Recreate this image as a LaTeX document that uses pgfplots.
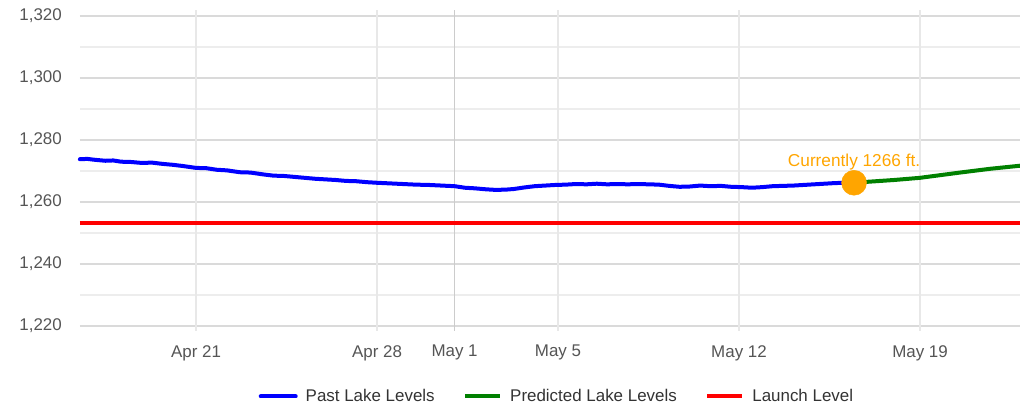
\documentclass[border=0pt]{standalone}
\usepackage{pgfplots}
\pgfplotsset{compat=1.18}
\usepackage{fontspec}
\setmainfont{Liberation Sans}
\definecolor{tickgray}{HTML}{555555}
\definecolor{legendgray}{HTML}{333333}
\definecolor{gridmaj}{HTML}{DADADA}
\definecolor{gridmin}{HTML}{EDEDED}
\definecolor{gridv}{HTML}{E8E8E8}
\definecolor{gridmay}{HTML}{CCCCCC}
\definecolor{lakeorange}{HTML}{FFA500}
\definecolor{lakegreen}{HTML}{008000}
\begin{document}
\begin{tikzpicture}
\path[use as bounding box] (0,0) rectangle (1020bp,408bp);
\begin{axis}[
  at={(80bp,82bp)}, anchor=south west,
  scale only axis, width=940bp, height=310bp,
  xmin=-14.486, xmax=21.867, ymin=1220, ymax=1320,
  axis line style={draw=none},
  major tick length=0pt, minor tick length=0pt,
  xtick={-10,-3,0,4,11,18},
  xticklabels={Apr 21,Apr 28,May 1,May 5,May 12,May 19},
  ytick={1220,1240,1260,1280,1300,1320},
  yticklabels={{1,220},{1,240},{1,260},{1,280},{1,300},{1,320}},
  minor ytick={1230,1250,1270,1290,1310},
  ymajorgrids, yminorgrids,
  major y grid style={color=gridmaj, line width=1.2bp},
  minor y grid style={color=gridmin, line width=1.2bp},
  ticklabel style={font=\fontsize{17}{20}\selectfont, text=tickgray},
  yticklabel style={inner sep=0pt, xshift=-18bp},
  xticklabel style={inner sep=0pt, yshift=-19bp},
  clip=false,
  legend columns=3,
  legend style={at={(0.5063,-0.2274)}, anchor=center, draw=none, fill=none,
    font=\fontsize{17}{20}\selectfont, text=legendgray,
    /tikz/every even column/.append style={column sep=28.5bp},
    /tikz/every odd column/.append style={column sep=8bp},
    nodes={inner sep=0pt}},
  legend image code/.code={\draw[#1, line width=4bp] (0bp,0bp) -- (35bp,0bp);},
]
% vertical grid lines
\draw[gridv, line width=1.2bp] (axis cs:-10,1218.4) -- (axis cs:-10,1321.9);
\draw[gridv, line width=1.2bp] (axis cs:-3,1218.4) -- (axis cs:-3,1321.9);
\draw[gridmay, line width=1.2bp] (axis cs:0,1218.4) -- (axis cs:0,1321.9);
\draw[gridv, line width=1.2bp] (axis cs:4,1218.4) -- (axis cs:4,1321.9);
\draw[gridv, line width=1.2bp] (axis cs:11,1218.4) -- (axis cs:11,1321.9);
\draw[gridv, line width=1.2bp] (axis cs:18,1218.4) -- (axis cs:18,1321.9);

\addplot[blue, line width=4bp, line join=round, line cap=round] coordinates {
(-14.49,1273.8) (-14.2,1273.9) (-13.9,1273.6) (-13.5,1273.3) (-13.2,1273.4)
(-12.9,1273.0) (-12.5,1272.9) (-12.1,1272.6) (-11.7,1272.7) (-11.3,1272.3)
(-10.9,1272.0) (-10.5,1271.6) (-10.0,1271.0) (-9.6,1270.9) (-9.2,1270.4)
(-8.8,1270.2) (-8.3,1269.6) (-7.9,1269.5) (-7.4,1268.9) (-7.0,1268.5)
(-6.6,1268.4) (-6.2,1268.1) (-5.8,1267.8) (-5.4,1267.5) (-5.0,1267.3)
(-4.6,1267.1) (-4.2,1266.8) (-3.8,1266.7) (-3.4,1266.4) (-3.0,1266.2)
(-2.5,1266.0) (-2.0,1265.8) (-1.5,1265.6) (-1.0,1265.5) (-0.5,1265.3)
(0.0,1265.1) (0.4,1264.6) (0.8,1264.4) (1.2,1264.1) (1.6,1263.9)
(2.0,1264.0) (2.3,1264.2) (2.7,1264.7) (3.1,1265.1) (3.5,1265.3)
(3.9,1265.5) (4.3,1265.6) (4.7,1265.8) (5.1,1265.7) (5.5,1265.9)
(5.9,1265.7) (6.3,1265.8) (6.7,1265.7) (7.1,1265.8) (7.5,1265.7)
(7.9,1265.6) (8.3,1265.2) (8.7,1264.9) (9.1,1265.0) (9.5,1265.3)
(9.9,1265.1) (10.3,1265.2) (10.7,1264.9) (11.1,1264.8) (11.5,1264.6)
(11.9,1264.8) (12.3,1265.1) (12.7,1265.2) (13.1,1265.3) (13.5,1265.5)
(13.9,1265.7) (14.3,1265.9) (14.7,1266.1) (15.1,1266.2) (15.45,1266.2)
};
\addlegendentry{Past Lake Levels}
\addplot[lakegreen, line width=4bp, line join=round] coordinates {
(15.45,1266.2) (15.94,1266.5) (17.0,1267.1) (18.0,1267.8) (19.55,1269.5)
(20.7,1270.7) (21.867,1271.7)
};
\addlegendentry{Predicted Lake Levels}
\addplot[red, line width=4bp] coordinates {(-14.486,1253.2) (21.867,1253.2)};
\addlegendentry{Launch Level}
\addplot[only marks, mark=*, mark size=12.5bp, color=lakeorange, forget plot] coordinates {(15.45,1266.2)};
\node[text=lakeorange, font=\fontsize{17.3}{20}\selectfont, inner sep=0pt] at (axis cs:15.45,1266.2) [yshift=21bp] {Currently 1266 ft.};
\end{axis}
\end{tikzpicture}
\end{document}
